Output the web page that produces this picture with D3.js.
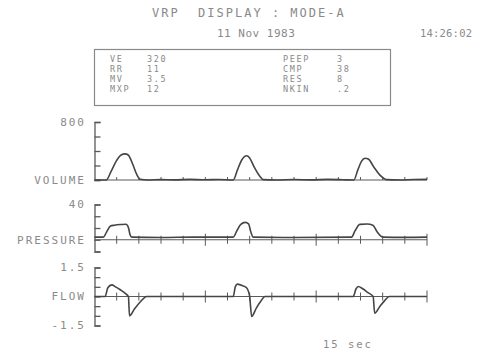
<!DOCTYPE html>
<html>
<head>
<meta charset="utf-8">
<script src="https://cdn.jsdelivr.net/npm/d3@7"></script>
<style>
  body { margin: 0; background: #fff; }
  text { font-family: "DejaVu Sans Mono", monospace; fill: #8a8a8a; }
</style>
</head>
<body>
<div id="chart"></div>
<script>
// header + parameter box
const title = "VRP  DISPLAY : MODE-A";
const dateLabel = "11 Nov 1983";
const timeLabel = "14:26:02";
const paramNamesLeft = ["VE", "RR", "MV", "MXP"];
const paramValuesLeft = ["320", "11", "3.5", "12"];
const paramNamesRight = ["PEEP", "CMP", "RES", "NKIN"];
const paramValuesRight = ["3", "38", "8", ".2"];

// time axis (seconds)
const timeTicks = d3.range(0, 16);
const timeLabelText = "15 sec";

// volume trace
const volumeTime = [0, 0.53, 0.75, 1.0, 1.2, 1.38, 1.52, 1.72, 1.9, 2.06, 2.4, 3.0, 3.6, 4.3, 5.0, 5.6, 6.26,
  6.45, 6.65, 6.86, 7.0, 7.2, 7.45, 7.61, 8.2, 9.0, 9.8, 10.5, 11.2, 11.7,
  11.88, 12.05, 12.2, 12.35, 12.6, 12.9, 13.17, 13.8, 14.4, 15];
const volumeValues = [0, 0, 120, 270, 345, 360, 345, 220, 80, 10, 0, 5, 2, 8, 3, 6, 0,
  140, 280, 335, 305, 180, 55, 5, 0, 6, 2, 8, 4, 0,
  140, 260, 300, 290, 180, 60, 5, 0, 6, 8];
const volumeTicks = [0, 200, 400, 600, 800];

// pressure trace
const pressureTime = [0, 0.4, 0.55, 0.72, 0.9, 1.2, 1.42, 1.53, 1.6, 1.68, 3.0, 4.5, 6.26,
  6.42, 6.6, 6.8, 6.95, 7.05, 7.16, 9.0, 11.6,
  11.75, 11.97, 12.3, 12.56, 12.75, 13.0, 14.0, 15];
const pressureValues = [3, 3, 9, 15.5, 16.5, 17.3, 17.6, 14, 6, 3, 2.6, 3, 3,
  10, 17.5, 19.7, 18, 9, 3, 2.6, 3,
  10, 17.4, 17.8, 16.5, 9, 3, 2.7, 3];
const pressureTicks = [-40 / 3, 0, 40 / 3, 80 / 3, 40];

// flow trace
const flowTime = [0, 0.48, 0.6, 0.78, 0.95, 1.16, 1.4, 1.53, 1.58, 1.8, 2.05, 2.36, 6.26,
  6.35, 6.45, 6.7, 6.86, 7.0, 7.09, 7.3, 7.5, 7.69, 11.67,
  11.8, 11.9, 12.1, 12.34, 12.57, 12.64, 12.88, 13.1, 13.3, 15];
const flowValues = [0, 0, 0.45, 0.6, 0.5, 0.35, 0.15, 0, -1.0, -0.65, -0.3, 0, 0,
  0.5, 0.64, 0.55, 0.45, 0, -1.03, -0.6, -0.25, 0, 0,
  0.4, 0.52, 0.4, 0.2, 0, -0.86, -0.5, -0.2, 0, 0];
const flowTicks = [-1.5, -1, -0.5, 0, 0.5, 1, 1.5];

const width = 485, height = 354;
const ink = "#454545", axisInk = "#5a5a5a";

const svg = d3.select("#chart").append("svg")
  .attr("width", width).attr("height", height);

// header
svg.append("text").attr("x", 152).attr("y", 17)
  .style("font-size", "12px").style("letter-spacing", "2px")
  .attr("xml:space", "preserve").text(title);
svg.append("text").attr("x", 217).attr("y", 37)
  .style("font-size", "11px").style("letter-spacing", "0.5px").text(dateLabel);
svg.append("text").attr("x", 420).attr("y", 37)
  .style("font-size", "10.5px").style("letter-spacing", "0.2px").text(timeLabel);

svg.append("rect").attr("x", 94.5).attr("y", 49.5).attr("width", 296).attr("height", 56)
  .attr("fill", "none").attr("stroke", "#8a8a8a").attr("stroke-width", 1.2);

// tight rows, like the plotter printout
const rowY = d3.scalePoint().domain(d3.range(4)).range([62, 92]);
const box = svg.append("g").style("font-size", "8.5px").style("letter-spacing", "1.6px");
[[paramNamesLeft, 110], [paramValuesLeft, 147], [paramNamesRight, 283], [paramValuesRight, 337]]
  .forEach(([col, x]) => {
    box.selectAll(null).data(col).enter().append("text")
      .attr("x", x).attr("y", (d, i) => rowY(i)).text(d => d);
  });

// panels
const x = d3.scaleLinear().domain([0, 15]).range([94.5, 427]);

const panels = [
  { name: "VOLUME", t: volumeTime, v: volumeValues, ticks: volumeTicks, domain: [0, 800], range: [180, 122],
    top: "800", bottom: null, zero: 0, up: 3, down: 0, majorUp: 3, majorDown: 0 },
  { name: "PRESSURE", t: pressureTime, v: pressureValues, ticks: pressureTicks, domain: [-40 / 3, 40], range: [251.5, 204.5],
    top: "40", bottom: null, zero: 0, up: 4, down: 4, majorUp: 6, majorDown: 6 },
  { name: "FLOW", t: flowTime, v: flowValues, ticks: flowTicks, domain: [-1.5, 1.5], range: [325.5, 267.5],
    top: "1.5", bottom: "-1.5", zero: 0, up: 4, down: 4, majorUp: 6, majorDown: 6 }
];

const labelStyle = sel => sel.style("font-size", "11px").style("letter-spacing", "2px")
  .attr("text-anchor", "end").attr("dy", "0.36em");

panels.forEach(p => {
  const y = d3.scaleLinear().domain(p.domain).range(p.range);
  const g = svg.append("g");

  // left bracket axis
  const yAxis = g.append("g").attr("transform", `translate(${x(0)},0)`)
    .call(d3.axisRight(y).tickValues(p.ticks).tickSize(6).tickFormat(""));
  yAxis.selectAll("path, line").attr("stroke", axisInk).attr("stroke-width", 1.3);

  // time axis through zero
  const y0 = y(p.zero);
  g.append("line").attr("x1", x(0)).attr("x2", x(15)).attr("y1", y0).attr("y2", y0)
    .attr("stroke", axisInk).attr("stroke-width", 1.2);
  g.selectAll(null).data(timeTicks.slice(1)).enter().append("line")
    .attr("x1", d => x(d)).attr("x2", d => x(d))
    .attr("y1", d => y0 - (d % 5 === 0 ? p.majorUp : p.up))
    .attr("y2", d => y0 + (d % 5 === 0 ? p.majorDown : p.down))
    .attr("stroke", axisInk).attr("stroke-width", 1);

  // trace
  const pts = p.t.map((t, i) => [t, p.v[i]]);
  g.append("path").datum(pts)
    .attr("fill", "none").attr("stroke", ink).attr("stroke-width", 1.6)
    .attr("stroke-linejoin", "round")
    .attr("d", d3.line().x(d => x(d[0])).y(d => y(d[1])).curve(d3.curveMonotoneX));

  // labels
  g.append("text").attr("x", 86).attr("y", y0).call(labelStyle).text(p.name);
  g.append("text").attr("x", 86).attr("y", y(p.domain[1])).call(labelStyle).text(p.top);
  if (p.bottom) g.append("text").attr("x", 86).attr("y", y(p.domain[0])).call(labelStyle).text(p.bottom);
});

svg.append("text").attr("x", 323).attr("y", 348)
  .style("font-size", "10.5px").style("letter-spacing", "2px")
  .attr("xml:space", "preserve").text(timeLabelText);
</script>
</body>
</html>
